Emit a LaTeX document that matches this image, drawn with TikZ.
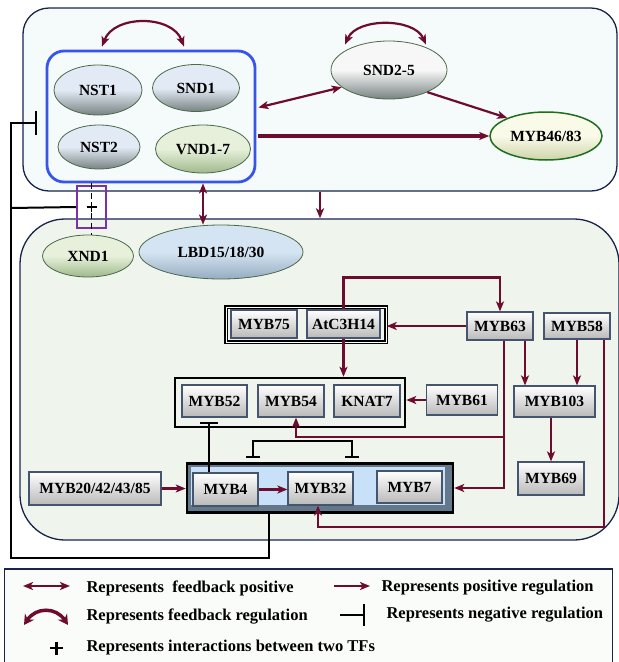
\documentclass[tikz,border=0pt]{standalone}
\usepackage{fontspec}
\setmainfont{Liberation Serif}
\usetikzlibrary{arrows.meta,shapes.geometric,calc}
\definecolor{regred}{RGB}{110,12,48}
\definecolor{navy}{RGB}{25,35,75}
\definecolor{clusterblue}{RGB}{55,85,235}
\definecolor{upfill}{RGB}{245,250,250}
\definecolor{lowfill}{RGB}{239,245,236}
\definecolor{legfill}{RGB}{249,252,248}
\definecolor{slate}{RGB}{70,85,110}
\definecolor{grpblue}{RGB}{200,225,248}
\definecolor{grpslate}{RGB}{100,120,140}
\definecolor{xpurple}{RGB}{120,50,170}
\definecolor{tfblue}{RGB}{226,235,245}
\definecolor{tfgray}{RGB}{120,130,130}
\definecolor{tfgreen}{RGB}{230,240,218}
\definecolor{tfgreenrim}{RGB}{160,185,140}
\definecolor{lbdblue}{RGB}{212,228,242}
\definecolor{lbdrim}{RGB}{150,172,192}
\definecolor{tfrim}{RGB}{75,105,75}
\definecolor{mybyellow}{RGB}{250,250,232}
\definecolor{mybrim}{RGB}{205,212,170}
\definecolor{mybgreen}{RGB}{30,110,30}

\begin{document}
\begin{tikzpicture}[x=1pt,y=-1pt,
    font=\fontsize{15.5}{17}\selectfont\bfseries,
    act/.style={draw=regred,line width=2.2pt,-{Stealth[length=10pt,width=8pt,inset=2.5pt]}},
    fbk/.style={act,{Stealth[length=10pt,width=8pt,inset=2.5pt]}-{Stealth[length=10pt,width=8pt,inset=2.5pt]}},
    inhib/.style={draw=black,line width=2pt,-{Bar[width=16pt]}},
    gene/.style={rectangle,draw=slate,line width=1.2pt,top color=white,bottom color=gray!55,inner sep=0pt},
    tf/.style 2 args={ellipse,draw=tfrim,line width=0.8pt,inner sep=0pt,top color=#1,bottom color=#2,middle color=#1},
    frame/.style={draw=navy,line width=1.3pt},
    legtext/.style={anchor=west,font=\fontsize{16.5}{18}\selectfont\bfseries}]
    \useasboundingbox (0,0) rectangle (619,662);

    \node[frame,fill=upfill,rounded corners=26pt,minimum width=594pt,minimum height=183pt] (upper) at (320,99.5) {};
    \node[frame,fill=lowfill,rounded corners=45pt,minimum width=599pt,minimum height=321pt] (lower) at (319.5,379.5) {};
    \node[frame,fill=legfill,minimum width=608pt,minimum height=96pt] (legend) at (308.5,617) {};

    \node[draw=clusterblue,line width=2.8pt,rounded corners=17pt,minimum width=208pt,minimum height=131pt] (cluster) at (151,116.5) {};
    \node[tf={tfblue}{tfgray},minimum width=88pt,minimum height=50pt] (nst1) at (98,90) {NST1};
    \node[tf={tfblue}{tfgray},minimum width=87pt,minimum height=47pt] (snd1) at (196,88) {SND1};
    \node[tf={tfblue}{tfgray},minimum width=82pt,minimum height=44pt] (nst2) at (99,147) {NST2};
    \node[tf={tfgreen}{tfgreenrim},minimum width=95pt,minimum height=48pt] (vnd) at (203,149) {VND1-7};
    \node[tf={gray!6}{tfgray},minimum width=116pt,minimum height=58pt] (snd25) at (389,70) {SND2-5};
    \node[tf={mybyellow}{mybrim},draw=mybgreen,line width=1.5pt,minimum width=112pt,minimum height=48pt] (myb4683) at (546,136) {MYB46/83};
    \node[tf={tfgreen}{tfgreenrim},minimum width=91pt,minimum height=42pt] (xnd1) at (88,256) {XND1};
    \node[tf={lbdblue}{lbdrim},minimum width=164pt,minimum height=54pt] (lbd) at (221,252) {LBD15/18/30};
    \node[draw=xpurple,line width=2pt,minimum width=29pt,minimum height=42pt] (xbox) at (91.5,207) {};

    \node[draw=black,line width=1.5pt,double=white,double distance=1pt,minimum width=160pt,minimum height=35pt] (g1) at (306,324.5) {};
    \node[draw=black,line width=2.5pt,minimum width=230pt,minimum height=49pt] (g2) at (290,402.5) {};
    \node[draw=black,line width=2.5pt,fill=grpslate,minimum width=266pt,minimum height=49pt] (g3) at (320,488) {};
    \fill[grpblue] (191,467) rectangle (445,505);

    \foreach \n/\t/\x/\y/\w/\h in {b75/MYB75/264/324/66/28, c3h14/AtC3H14/343.5/324/73/28,
        b63/MYB63/500/326/66/28, b58/MYB58/577/326/66/26, b52/MYB52/214.5/401/65/32,
        b54/MYB54/291/401/66/32, knat7/KNAT7/367/401/66/32, b61/MYB61/462/400/71/30,
        b103/MYB103/554.5/401.5/81/31, b69/MYB69/551/478.5/66/33, b4/MYB4/225.5/489.5/65/33,
        b32/MYB32/320.5/488.5/65/33, b7/MYB7/409.5/487/65/32}
        \node[gene,minimum width=\w pt,minimum height=\h pt] (\n) at (\x,\y) {\t};
    \node[gene,minimum width=132pt,minimum height=33pt] (b20) at (95,488.5) {MYB20/42/43/85};

    \draw[fbk] ($(cluster.north)+(-49,-3)$) .. controls +(12,-32) and +(-12,-32) .. ($(cluster.north)+(33,-3)$);
    \draw[fbk] ($(snd25.north)+(-44,4)$) .. controls +(12,-27) and +(-12,-27) .. ($(snd25.north)+(37,4)$);
    \draw[fbk] ($(cluster.east)+(2,-9)$) -- (snd25.200);
    \draw[act] (snd25.-30) -- (myb4683.155);
    \draw[act,line width=3.5pt] ($(cluster.east)+(2,19.5)$) -- (myb4683.west);
    \draw[act] (upper.south) -- (upper.south |- lower.north);
    \draw[fbk] (vnd.south |- cluster.south) -- (vnd.south |- lbd.north);

    \draw[line width=1.5pt,dash pattern=on 6pt off 4pt] (xbox.center |- cluster.south) -- (xbox.center |- xnd1.north);
    \draw[line width=1.8pt] ($(xbox.center)+(-5,0)$) -- +(10,0) ($(xbox.center)+(0,-5)$) -- +(0,10);
    \draw[inhib,-{Bar[width=24pt]}] ($(g3.south)+(-51,0)$) -- ++(0,44) -| (11,123) -- ($(cluster.west)+(-9,6.5)$);
    \draw[line width=2pt] (11,208) -- (xbox.west);

    \draw[act] (c3h14.north) -- ++(0,-32) -| (b63.north);
    \draw[act] (b63.west) -- (b63.west -| g1.east);
    \draw[act] (c3h14.south) -- (c3h14.south |- g2.north);
    \draw[act] (b61.west) -- (b61.west -| g2.east);
    \coordinate (r63) at ($(b63.south)+(25,0)$);
    \draw[act] (r63) -- (r63 |- b103.north);
    \draw[act] (b58.south) -- (b58.south |- b103.north);
    \draw[act] (b69.north |- b103.south) -- (b69.north);
    \coordinate (l63) at ($(b63.south)+(4,0)$);
    \draw[act,line width=1.8pt] (l63) |- (g3.east);
    \draw[act,line width=1.8pt] ($(l63)+(0,96)$) -| ($(b54.south)+(5,0)$);
    \coordinate (r58) at ($(b58.south east)+(-7,0)$);
    \draw[act,line width=1.8pt] (r58) -- ++(0,187) -| ($(b32.south)+(-2.5,0)$);
    \draw[act] (b20.east) -- (b20.east -| g3.west);
    \draw[act] (b4.east) -- (b4.east -| b32.west);
    \coordinate (i52) at ($(b52.south)+(-5.5,4)$);
    \draw[inhib,-{Bar[width=18pt]}] (i52 |- b4.north) -- (i52);
    \draw[inhib,{Bar[width=14pt]}-{Bar[width=14pt]}] ($(g3.north)+(-67,-4)$) |- ($(g3.north)+(0,-21)$) -| ($(g3.north)+(32,-4)$);

    \node[legtext] (leg1) at (83,588) {Represents\ \ feedback positive};
    \node[legtext] (leg2) at (378,588) {Represents positive regulation};
    \node[legtext] (leg3) at (83,617) {Represents feedback regulation};
    \node[legtext] (leg4) at (383,615) {Represents negative regulation};
    \node[legtext] (leg5) at (83,648) {Represents interactions between two TFs};
    \draw[fbk] ($(leg1.west)+(-60,-2)$) -- ($(leg1.west)+(-13,-2)$);
    \draw[act] ($(leg2.west)+(-44,-2)$) -- ($(leg2.west)+(-8,-2)$);
    \draw[act,line width=3.5pt,{Stealth[length=10pt,width=11pt]}-{Stealth[length=10pt,width=11pt]}] ($(leg3.west)+(-59,8)$) .. controls +(12,-18) and +(-12,-18) .. ($(leg3.west)+(-15,8)$);
    \draw[inhib,-{Bar[width=22pt]}] ($(leg4.west)+(-43,0)$) -- ($(leg4.west)+(-18,0)$);
    \draw[line width=2.6pt] ($(leg5.west)+(-33,0)$) -- +(13,0) ($(leg5.west)+(-26.5,-6.5)$) -- +(0,13);
\end{tikzpicture}
\end{document}
